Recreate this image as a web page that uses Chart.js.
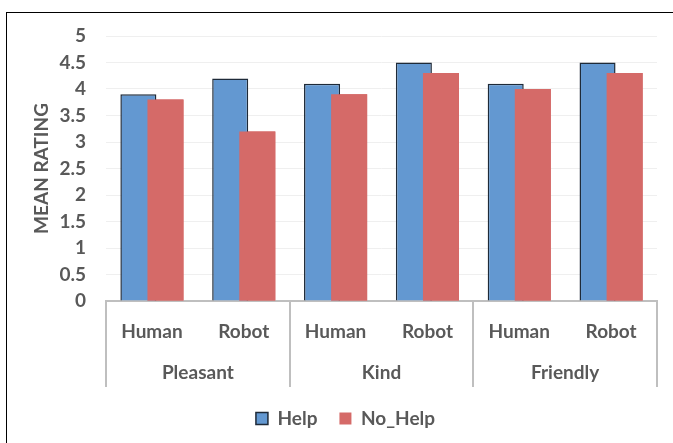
<!DOCTYPE html>
<html><head><meta charset="utf-8">
<script src="https://cdn.jsdelivr.net/npm/chart.js@4"></script>
<style>
html,body{margin:0;padding:0;background:#fff;overflow:hidden;width:673px;height:443px;}
#frame{position:absolute;left:6px;top:12px;width:720px;height:520px;border-top:1px solid #000;border-left:1px solid #000;}
#wrap{position:absolute;left:0;top:0;width:673px;height:443px;}
</style></head><body>
<div id="frame"></div>
<div id="wrap"><canvas id="c" width="673" height="443"></canvas></div>
<script>
const groups = ['Pleasant', 'Kind', 'Friendly'];
const agents = ['Human', 'Robot'];
const categories = groups.flatMap(() => agents);
const helpValues = [3.9, 4.2, 4.1, 4.5, 4.1, 4.5];
const noHelpValues = [3.8, 3.2, 3.9, 4.3, 4.0, 4.3];
const seriesNames = ['Help', 'No_Help'];
const yTitle = 'MEAN RATING';

const FONT = 'Lato, "Open Sans", sans-serif';
const TXT = '#595959';
const FS = 19;
const tickFont = {family: FONT, size: FS, weight: 'bold'};

const groupPlugin = {
  id: 'groupAxis',
  afterDatasetsDraw(chart) {
    // No_Help bars overlap Help bars, drawn on top as in the reference
    chart.getDatasetMeta(1).controller.draw();
  },
  afterDraw(chart) {
    const x = chart.scales.x;
    const ctx = chart.ctx;
    const n = categories.length;
    const per = agents.length;
    const edge = i => {
      if (i <= 0) return x.left;
      if (i >= n) return x.right;
      return (x.getPixelForValue(i - 1) + x.getPixelForValue(i)) / 2;
    };
    ctx.save();
    ctx.strokeStyle = '#bfbfbf';
    ctx.lineWidth = 2;
    for (let g = 0; g <= groups.length; g++) {
      const px = Math.round(edge(g * per));
      ctx.beginPath();
      ctx.moveTo(px, x.top - 1);
      ctx.lineTo(px, x.top + 86);
      ctx.stroke();
    }
    ctx.fillStyle = TXT;
    ctx.font = 'bold ' + FS + 'px ' + FONT;
    ctx.textAlign = 'center';
    ctx.textBaseline = 'middle';
    groups.forEach((g, gi) => {
      const cx = (edge(gi * per) + edge((gi + 1) * per)) / 2;
      ctx.fillText(g, cx, x.top + 72);
    });
    ctx.restore();
  },
  afterLayout(chart) {
    const lg = chart.legend;
    if (lg) { lg.left += 17; lg.right += 17; }
  }
};

new Chart(document.getElementById('c'), {
  type: 'bar',
  data: {
    labels: categories,
    datasets: [
      {label: seriesNames[0], data: helpValues, backgroundColor: '#6398d1', borderColor: '#1e2a38', borderWidth: 1.5,
       categoryPercentage: 0.59, barPercentage: 1.33},
      {label: seriesNames[1], data: noHelpValues, backgroundColor: '#d56a68', borderColor: '#d56a68', borderWidth: 0,
       categoryPercentage: 0.59, barPercentage: 1.33}
    ]
  },
  options: {
    responsive: false,
    animation: false,
    devicePixelRatio: 1,
    layout: {padding: {left: 0, right: 16, top: 36, bottom: 5}},
    plugins: {
      legend: {
        position: 'bottom',
        labels: {color: TXT, font: tickFont, boxWidth: 12, boxHeight: 12, padding: 22}
      },
      tooltip: {enabled: false}
    },
    scales: {
      x: {
        grid: {display: false, drawTicks: false},
        border: {display: true, color: '#bfbfbf', width: 2},
        ticks: {color: TXT, font: tickFont, padding: 19, maxRotation: 0, autoSkip: false},
        afterFit(s) { s.height = 86; }
      },
      y: {
        min: 0, max: 5,
        ticks: {stepSize: 0.5, color: TXT, font: tickFont, padding: 20, callback: v => String(v)},
        grid: {drawTicks: false, color: c => c.tick && c.tick.value === 0 ? 'rgba(0,0,0,0)' : '#efefef', lineWidth: 1},
        border: {display: false},
        title: {display: true, text: yTitle, color: TXT, font: tickFont, padding: {top: 30, bottom: 0}},
        afterFit(s) { s.width = 106; }
      }
    }
  },
  plugins: [groupPlugin]
});
</script>
</body></html>
